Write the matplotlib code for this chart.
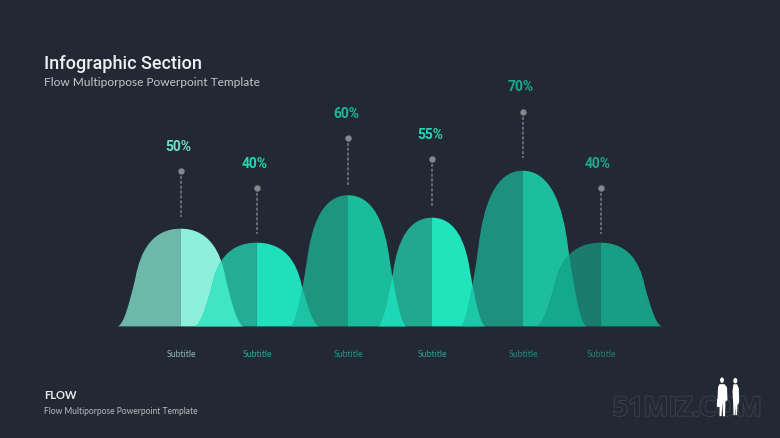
import matplotlib
matplotlib.use('Agg')
import matplotlib.pyplot as plt
import matplotlib.patheffects as pe
from matplotlib.patches import PathPatch, Ellipse, Polygon
from matplotlib.path import Path

# values
labels = ['50%', '40%', '60%', '55%', '70%', '40%']
subtitles = ['Subtitle'] * 6
centers = [180.5, 256.5, 348, 432, 522.5, 600.5]
lefts = [118, 195, 291, 378, 461, 537]
rights = [243, 319, 406, 485, 586, 661.5]
tops = [229, 243, 195.5, 218, 171, 243]
dots = [171, 188, 138, 159, 112, 188]
stem_ends = [217, 234, 185, 206, 158, 234]
label_x = [178.5, 254.5, 346, 430, 521, 598]
label_y = [146, 163, 113, 134, 86.5, 163]
base = 326.7

left_colors = ['#6CB8AB', '#22AD94', '#1E957F', '#22A88F', '#1E917E', '#1A7C6C']
right_colors = ['#8DF0DC', '#1FE0BB', '#1ABC9C', '#20E4BC', '#1CBE9E', '#179E85']
overlap_colors = ['#40E5C3', '#1CC4A6', '#1CD8B6', '#1CC8A8', '#14A88C']
label_colors = ['#6FE0C8', '#1FD8B4', '#1ABC9C', '#1FD8B4', '#1CA88E', '#1CA88E']
sub_colors = ['#8FB8B0', '#2FA896', '#1F9684', '#2AA08E', '#1F8E7E', '#1F8070']

bg = '#222935'
head = ['Roboto', 'DejaVu Sans']
light = ['Lato', 'Open Sans', 'DejaVu Sans']


def half(edge, center, top):
    # one side of a hump, from the foot on the baseline up to the crown
    w = center - edge
    h = top - base
    pts = [(0, 0), (.09, .03), (.17, .20), (.28, .50),
           (.36, .78), (.56, 1), (1, 1), (1, 0), (0, 0)]
    codes = [Path.MOVETO] + [Path.CURVE4] * 6 + [Path.LINETO, Path.CLOSEPOLY]
    return Path([(edge + x * w, base + y * h) for x, y in pts], codes)


fig = plt.figure(figsize=(7.8, 4.39), dpi=100, facecolor=bg)
ax = fig.add_axes([0, 0, 1, 1])
ax.set_xlim(0, 780)
ax.set_ylim(438.3, -0.7)
ax.axis('off')

right_patches = []
for i in range(len(centers)):
    pl = PathPatch(half(lefts[i], centers[i], tops[i]), fc=left_colors[i], lw=0, zorder=2 + i)
    pr = PathPatch(half(rights[i], centers[i], tops[i]), fc=right_colors[i], lw=0, zorder=2 + i)
    ax.add_patch(pl)
    ax.add_patch(pr)
    right_patches.append(pr)
    if i > 0:
        ov = PathPatch(half(lefts[i], centers[i], tops[i]), fc=overlap_colors[i - 1], lw=0, zorder=2.5 + i)
        ax.add_patch(ov)
        ov.set_clip_path(right_patches[i - 1])

    # stem and dot
    ax.plot([centers[i], centers[i]], [dots[i], stem_ends[i]], color='#7A7F85', lw=1.1,
            dashes=(2, 1.2), zorder=10)
    ax.plot(centers[i], dots[i], 'o', color='#85878A', ms=4.6, mew=0, zorder=11)
    ax.text(label_x[i], label_y[i], labels[i], color=label_colors[i], fontsize=10,
            fontweight='bold', family=head, ha='center', va='center', zorder=11)
    ax.text(centers[i] + 0.7, 354, subtitles[i], color=sub_colors[i], fontsize=6.3,
            family=light, ha='center', va='center', zorder=11)

ax.text(44.5, 63.5, 'Infographic Section', color='#EDEFF0', fontsize=13, fontweight='medium',
        family=head, ha='left', va='center')
ax.text(44, 82, 'Flow Multiporpose Powerpoint Template', color='#C4C8CC', fontsize=8.6,
        family=light, ha='left', va='center')
ax.text(44, 395, 'FLOW', color='#E8EAEC', fontsize=8, fontweight='bold',
        family=light, ha='left', va='center')
ax.text(44, 411, 'Flow Multiporpose Powerpoint Template', color='#B8BCC0', fontsize=6.15,
        family=light, ha='left', va='center')

# watermark
ax.text(687, 409, '51MIZ.COM', color=bg, fontsize=19.2, fontweight='bold', family=['Open Sans', 'DejaVu Sans'],
        ha='center', va='center', zorder=12,
        path_effects=[pe.withStroke(linewidth=1.4, foreground='#38404C')])

# two small figures
ax.add_patch(Ellipse((722, 380.5), 3.8, 5.5, fc='white', lw=0, zorder=13))
ax.add_patch(Ellipse((735.3, 381), 4, 5.5, fc='white', lw=0, zorder=13))
ax.add_patch(Polygon([(719.5, 384.5), (724.5, 384.5), (727, 387.5), (727.5, 400.5), (725.5, 401.5), (725, 416.5),
                      (723, 416.5), (722.5, 402.5), (721.5, 416.5), (719.5, 416.5), (719.5, 402.5), (717.5, 400.5), (718, 387.5)],
                     fc='white', lw=0, zorder=13))
ax.add_patch(Polygon([(733.5, 384.5), (737, 384.5), (738.8, 388.5), (739.2, 402.5), (737.5, 405.5), (737, 415.5),
                      (735.5, 415.5), (735.3, 405.5), (734.8, 415.5), (733.5, 415.5), (733.2, 404.5), (732.5, 391.5)],
                     fc='white', lw=0, zorder=13))
ax.add_patch(Polygon([(716.8, 399.5), (720, 399.5), (720, 407.5), (716.8, 407.5)], fc='white', lw=0, zorder=13))

fig.savefig('out.png', dpi=100, facecolor=bg)
